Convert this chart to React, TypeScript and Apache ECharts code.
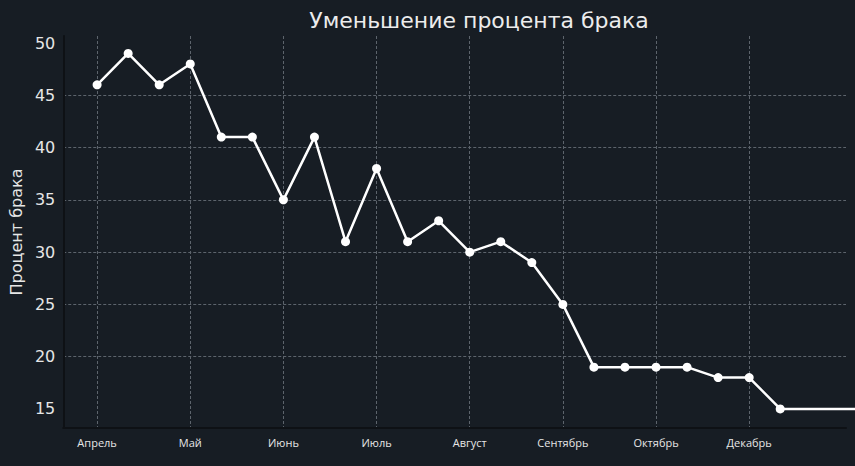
import React, { useEffect, useRef } from 'react';
import * as echarts from 'echarts';

const chartTitle = 'Уменьшение процента брака';
const yAxisName = 'Процент брака';
const monthLabels = ['Апрель', 'Май', 'Июнь', 'Июль', 'Август', 'Сентябрь', 'Октябрь', 'Декабрь'];
const monthPositions = [0, 3, 6, 9, 12, 15, 18, 21];
const defectPercent = [46, 49, 46, 48, 41, 41, 35, 41, 31, 38, 31, 33, 30, 31, 29, 25, 19, 19, 19, 19, 18, 18, 15];
const tailPoints = [[22, 15], [26, 15]];
const yTicks = [15, 20, 25, 30, 35, 40, 45, 50];

const BG = '#171d24';
const GRID = '#5d646c';
const X_MIN = -1.09;
const UNIT = 31.18;

export default function App() {
  const ref = useRef<HTMLDivElement>(null);
  useEffect(() => {
    if (!ref.current) return;
    const chart = echarts.init(ref.current, undefined, { renderer: 'svg' });
    const seriesData = defectPercent.map((v, i) => [i, v]);
    const gridLeft = 60;
    const xMaxMain = X_MIN + 786 / UNIT;
    const xMaxWide = X_MIN + 795 / UNIT;
    const splitStyle = { color: GRID, type: [3, 2], width: 1 };
    chart.setOption({
      animation: false,
      backgroundColor: BG,
      title: {
        text: chartTitle,
        left: 474,
        textAlign: 'center',
        top: 4,
        textStyle: { color: '#ececec', fontFamily: 'DejaVu Sans', fontSize: 22, fontWeight: 'normal' },
      },
      grid: [
        { left: gridLeft, right: 9, top: 36, bottom: 38, containLabel: false },
        { left: gridLeft, right: 0, top: 36, bottom: 38, containLabel: false },
      ],
      xAxis: [
        {
          type: 'value',
          gridIndex: 0,
          min: X_MIN,
          max: xMaxMain,
          axisLine: { show: true, onZero: false, lineStyle: { color: '#0e1115', width: 2 } },
          axisTick: { show: false, customValues: monthPositions },
          axisLabel: {
            customValues: monthPositions,
            formatter: (v: number) => {
              const k = monthPositions.indexOf(Math.round(v));
              return k >= 0 ? monthLabels[k] : '';
            },
            color: '#e6e6e6',
            fontFamily: 'Open Sans',
            fontSize: 11,
            margin: 9,
          },
          splitLine: { show: true, showMinLine: true, showMaxLine: true, lineStyle: splitStyle },
        },
        {
          type: 'value',
          gridIndex: 1,
          min: X_MIN,
          max: xMaxWide,
          show: false,
        },
      ],
      yAxis: [
        {
          type: 'value',
          gridIndex: 0,
          min: 13.18,
          max: 50.67,
          name: yAxisName,
          nameLocation: 'middle',
          nameGap: 36,
          nameTextStyle: { color: '#e6e6e6', fontFamily: 'DejaVu Sans', fontSize: 16 },
          axisLine: { show: true, onZero: false, lineStyle: { color: '#0e1115', width: 2 } },
          axisTick: { show: false, customValues: yTicks },
          axisLabel: {
            customValues: yTicks,
            color: '#e6e6e6',
            fontFamily: 'DejaVu Sans',
            fontSize: 16,
            margin: 8,
          },
          splitLine: { show: true, showMinLine: false, showMaxLine: false, lineStyle: splitStyle },
        },
        {
          type: 'value',
          gridIndex: 1,
          min: 13.18,
          max: 50.67,
          show: false,
        },
      ],
      series: [
        {
          type: 'line',
          xAxisIndex: 1,
          yAxisIndex: 1,
          data: tailPoints,
          symbol: 'none',
          lineStyle: { color: '#ffffff', width: 2.5 },
          z: 2,
        },
        {
          type: 'line',
          xAxisIndex: 0,
          yAxisIndex: 0,
          data: seriesData,
          symbol: 'circle',
          symbolSize: 9,
          lineStyle: { color: '#ffffff', width: 2.5 },
          itemStyle: { color: '#ffffff' },
          z: 3,
        },
      ],
    });
    return () => chart.dispose();
  }, []);
  return <div ref={ref} style={{ position: 'fixed', left: 0, top: 0, width: 855, height: 466 }} />;
}
